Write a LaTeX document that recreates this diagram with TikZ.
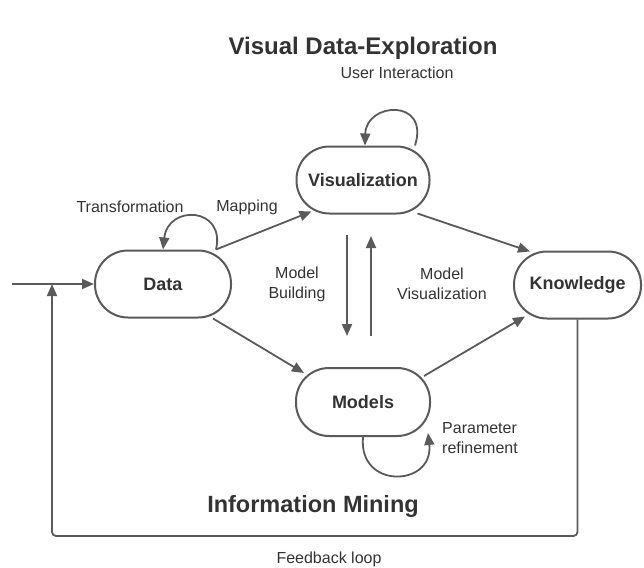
\documentclass[tikz,border=0pt]{standalone}
\usepackage{fontspec}
\setmainfont{Liberation Sans}
\usetikzlibrary{arrows.meta,calc}
\definecolor{linegray}{HTML}{5A5A5A}
\definecolor{textgray}{HTML}{333333}
\tikzset{
  stage/.style={draw=linegray, line width=2pt, fill=white, rounded corners=33pt,
    minimum height=67pt, inner sep=0pt, text=textgray,
    font=\fontsize{18}{21}\selectfont\bfseries},
  flow/.style={draw=linegray, line width=1.8pt, -{Triangle[length=12pt,width=10pt]}},
  lbl/.style={text=textgray, font=\fontsize{16}{20}\selectfont, inner sep=0pt, align=center},
  heading/.style={text=textgray, font=\fontsize{24}{28}\selectfont\bfseries, inner sep=0pt}
}
\begin{document}
\begin{tikzpicture}[x=1pt, y=-1pt]
\useasboundingbox (0,0) rectangle (644,567);

% stages
\node[stage, minimum width=136pt] (data) at (163,284) {Data};
\node[stage, minimum width=133pt] (vis)  at (363,180) {Visualization};
\node[stage, minimum width=134pt, minimum height=68pt] (mod) at (363,402) {Models};
\node[stage, minimum width=127pt] (know) at (577.5,285) {Knowledge};

% headings
\node[heading] (title) at (363,48) {Visual Data-Exploration};
\node[heading, font=\fontsize{23.5}{28}\selectfont\bfseries] (mining) at (313,506) {Information Mining};

% labels
\node[lbl] (ui) at (397,73) {User Interaction};
\node[lbl] (trans) at (130,207) {Transformation};
\node[lbl] (mapl) at (247,207) {Mapping};
\node[lbl] (mbuild) at (297,284) {Model\\Building};
\node[lbl] (mvis) at (442,284) {Model\\Visualization};
\node[lbl, align=left, anchor=west] (param) at (442,438) {Parameter\\refinement};
\node[lbl] (fb) at (329,559) {Feedback loop};

% main flows
\draw[flow] ($(data.north east)+(-16,0)$) -- ($(vis.south west)+(16,-3)$);
\draw[flow] ($(vis.south east)+(-13,-1)$) -- ($(know.north west)+(17,1)$);
\draw[flow] ($(data.south east)+(-19,0)$) -- ($(mod.south west)+(9,-64)$);
\draw[flow] ($(mod.north east)+(-7,9)$) -- ($(know.south west)+(12,-3)$);

% self loops
\draw[flow] ($(vis.north)+(52,0)$) .. controls (430,98) and (366,102) .. ($(vis.north)+(2,0)$);
\draw[flow] ($(data.north east)+(-16,0)$) .. controls (226,207) and (168,204) .. ($(data.north)+(0,0)$);
\draw[flow] (mod.south) .. controls (358,490) and (434,487) .. ($(mod.south east)+(-3,-4)$);

% model building / model visualization
\coordinate (bTop) at (347,235);
\coordinate (bBot) at (347,336);
\coordinate (vBot) at (371,336);
\coordinate (vTop) at (371,236);
\draw[flow] (bTop) -- (bBot);
\draw[flow] (vBot) -- (vTop);

% input and feedback loop
\coordinate (in) at (12,284);
\coordinate (fbJoin) at (52,284);
\draw[flow] (in) -- (data.west);
\draw[flow, rounded corners=4pt] (know.south) -- (know.south |- 0,536) -- (52,536) -- (fbJoin);
\end{tikzpicture}
\end{document}
